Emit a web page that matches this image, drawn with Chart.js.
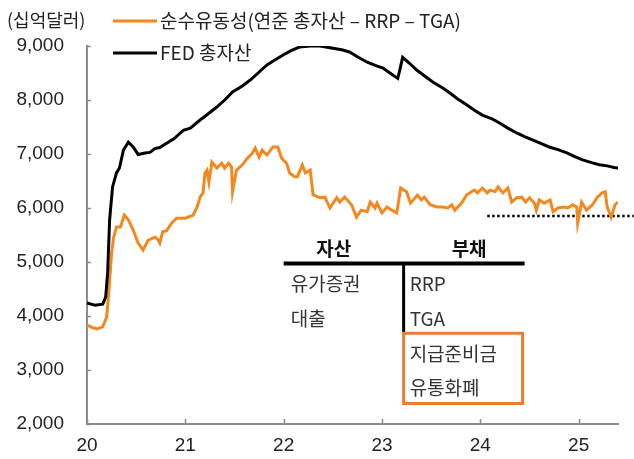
<!DOCTYPE html>
<html>
<head>
<meta charset="utf-8">
<script src="https://cdn.jsdelivr.net/npm/chart.js@4.4.1/dist/chart.umd.min.js"></script>
<style>
  body { margin: 0; background: #fff; }
  #wrap { position: relative; width: 634px; height: 459px; }
</style>
</head>
<body>
<div id="wrap"><canvas id="chart" width="634" height="459"></canvas></div>
<script>
// 순수유동성 (연준 총자산 - RRP - TGA), 십억달러
const liqYears = [20.00, 20.05, 20.10, 20.16, 20.20, 20.22, 20.25, 20.27, 20.30, 20.34,
  20.38, 20.42, 20.47, 20.52, 20.57, 20.62, 20.69, 20.72, 20.74, 20.77,
  20.81, 20.86, 20.91, 21.00, 21.08, 21.12, 21.15, 21.18, 21.20, 21.22,
  21.24, 21.27, 21.32, 21.37, 21.40, 21.44, 21.47, 21.48, 21.52, 21.58,
  21.63, 21.68, 21.71, 21.75, 21.78, 21.83, 21.89, 21.94, 21.98, 22.03,
  22.06, 22.11, 22.14, 22.19, 22.22, 22.27, 22.30, 22.37, 22.42, 22.47,
  22.54, 22.57, 22.62, 22.69, 22.74, 22.79, 22.85, 22.88, 22.93, 22.95,
  23.00, 23.05, 23.10, 23.15, 23.19, 23.25, 23.29, 23.36, 23.40, 23.43,
  23.49, 23.56, 23.62, 23.67, 23.71, 23.74, 23.81, 23.86, 23.91, 23.94,
  23.97, 24.02, 24.07, 24.10, 24.15, 24.18, 24.23, 24.28, 24.32, 24.37,
  24.42, 24.46, 24.50, 24.55, 24.57, 24.60, 24.65, 24.71, 24.74, 24.79,
  24.84, 24.89, 24.94, 24.98, 24.99, 25.03, 25.08, 25.14, 25.19, 25.24,
  25.27, 25.29, 25.33, 25.37, 25.40];
const liqValues = [3830, 3790, 3760, 3800, 3980, 4400, 5170, 5450, 5650, 5650,
  5870, 5780, 5590, 5350, 5220, 5400, 5460, 5420, 5350, 5560,
  5580, 5720, 5810, 5810, 5870, 6020, 6200, 6280, 6650, 6700,
  6480, 6850, 6740, 6830, 6740, 6830, 6760, 6300, 6700, 6800,
  6920, 7010, 7110, 6940, 7070, 6980, 7130, 7130, 6920, 6830,
  6650, 6580, 6580, 6800, 6650, 6700, 6240, 6190, 6200, 6000,
  6190, 6110, 6200, 6060, 5830, 5960, 5930, 6110, 6000, 6090,
  5910, 6020, 5960, 5910, 6370, 6300, 6090, 6240, 6150, 6200,
  6060, 6020, 6020, 6000, 6060, 5960, 6090, 6240, 6300, 6330,
  6280, 6370, 6280, 6330, 6300, 6390, 6280, 6370, 6110, 6190,
  6200, 6110, 6190, 6090, 5960, 6150, 6090, 6150, 5930, 6000,
  6020, 6000, 6060, 6020, 5720, 6110, 5960, 6060, 6200, 6280,
  6300, 6020, 5830, 6060, 6110];

// FED 총자산, 십억달러
const fedYears = [20.00, 20.08, 20.16, 20.19, 20.21, 20.23, 20.26, 20.30, 20.33, 20.37,
  20.42, 20.47, 20.52, 20.59, 20.64, 20.69, 20.74, 20.81, 20.89, 20.98,
  21.05, 21.15, 21.23, 21.32, 21.40, 21.48, 21.58, 21.66, 21.74, 21.83,
  21.91, 21.99, 22.08, 22.16, 22.27, 22.37, 22.50, 22.59, 22.67, 22.75,
  22.85, 22.93, 23.01, 23.08, 23.16, 23.18, 23.21, 23.28, 23.35, 23.43,
  23.52, 23.61, 23.69, 23.77, 23.86, 23.94, 24.02, 24.12, 24.20, 24.28,
  24.37, 24.45, 24.53, 24.62, 24.70, 24.79, 24.88, 24.96, 25.04, 25.13,
  25.21, 25.29, 25.36, 25.40];
const fedValues = [4240, 4200, 4220, 4350, 4800, 5780, 6390, 6650, 6740, 7070,
  7220, 7130, 6990, 7020, 7030, 7100, 7120, 7200, 7290, 7440,
  7480, 7630, 7740, 7870, 8000, 8150, 8260, 8370, 8500, 8650,
  8740, 8830, 8920, 8980, 9000, 9000, 8960, 8930, 8890, 8800,
  8700, 8640, 8590, 8500, 8400, 8550, 8790, 8680, 8560, 8450,
  8330, 8230, 8130, 8020, 7910, 7810, 7720, 7650, 7570, 7480,
  7390, 7320, 7260, 7190, 7130, 7080, 7020, 6950, 6890, 6840,
  6800, 6780, 6750, 6740];

// 점선 기준선
const refYears = [24.07, 25.56];
const refValues = [5850, 5850];

const yTicks = [2000, 3000, 4000, 5000, 6000, 7000, 8000, 9000];
const xTicks = [20, 21, 22, 23, 24, 25];

const seriesNames = ["순수유동성(연준 총자산 – RRP – TGA)", "FED 총자산"];
const unitLabel = "(십억달러)";
const assets = ["유가증권", "대출"];
const liabilities = ["RRP", "TGA"];
const boxed = ["지급준비금", "유통화폐"];

const ORANGE = "#f5871f";
const BOX = "#ec7c30";
const FONT = "'Liberation Sans', 'Noto Sans CJK KR', sans-serif";
const KFONT = "'Noto Sans CJK KR', sans-serif";

const toPoints = (xs, ys) => xs.map((x, i) => ({ x, y: ys[i] }));

// legend, unit label, inward ticks and the T-account sketch
const overlay = {
  id: "overlay",
  afterDraw(chart) {
    const { ctx, scales } = chart;
    const xs = scales.x, ys = scales.y;
    ctx.save();

    // inward tick marks
    ctx.strokeStyle = "#8c8c8c";
    ctx.lineWidth = 1.5;
    yTicks.forEach((v) => {
      const py = Math.round(ys.getPixelForValue(v)) + 0.5;
      ctx.beginPath(); ctx.moveTo(xs.left, py); ctx.lineTo(xs.left + 4, py); ctx.stroke();
    });
    xTicks.forEach((v) => {
      const px = Math.round(xs.getPixelForValue(v)) + 0.5;
      ctx.beginPath(); ctx.moveTo(px, ys.bottom); ctx.lineTo(px, ys.bottom - 5); ctx.stroke();
    });

    // unit + legend
    ctx.fillStyle = "#222";
    ctx.font = "18px " + KFONT;
    ctx.textBaseline = "middle";
    ctx.textAlign = "left";
    ctx.fillText(unitLabel, 7, 20);

    ctx.font = "19px " + KFONT;
    const legend = [[ORANGE, seriesNames[0], 21], ["#000", seriesNames[1], 53]];
    legend.forEach(([c, t, y]) => {
      ctx.strokeStyle = c; ctx.lineWidth = 3;
      ctx.beginPath(); ctx.moveTo(113, y); ctx.lineTo(157, y); ctx.stroke();
      ctx.fillStyle = "#222";
      ctx.fillText(t, 160, y);
    });

    // T-account
    const left = xs.getPixelForValue(22.0);
    const mid = xs.getPixelForValue(23.22);
    const right = xs.getPixelForValue(24.45);
    const lineY = ys.getPixelForValue(4970);
    ctx.strokeStyle = "#000";
    ctx.lineWidth = 4;
    ctx.beginPath(); ctx.moveTo(left, lineY); ctx.lineTo(right, lineY); ctx.stroke();
    ctx.lineWidth = 3;
    ctx.beginPath(); ctx.moveTo(mid, lineY); ctx.lineTo(mid, ys.getPixelForValue(3700)); ctx.stroke();

    ctx.fillStyle = "#111";
    ctx.font = "bold 19px " + KFONT;
    ctx.textAlign = "center";
    ctx.fillText("자산", (left + mid) / 2 - 10, lineY - 15);
    ctx.fillText("부채", (mid + right) / 2 + 5, lineY - 15);

    ctx.font = "19px " + KFONT;
    ctx.textAlign = "left";
    ctx.fillStyle = "#333";
    const rowY = [ys.getPixelForValue(4590), ys.getPixelForValue(3940)];
    assets.forEach((t, i) => ctx.fillText(t, left + 7, rowY[i]));
    liabilities.forEach((t, i) => ctx.fillText(t, mid + 6, rowY[i]));
    const boxRow = [ys.getPixelForValue(3300), ys.getPixelForValue(2670)];
    boxed.forEach((t, i) => ctx.fillText(t, mid + 6, boxRow[i]));

    ctx.strokeStyle = BOX;
    ctx.lineWidth = 3;
    const bTop = ys.getPixelForValue(3680), bBot = ys.getPixelForValue(2380);
    ctx.strokeRect(mid, bTop, xs.getPixelForValue(24.43) - mid, bBot - bTop);

    ctx.restore();
  }
};

new Chart(document.getElementById("chart"), {
  type: "line",
  data: {
    datasets: [
      {
        label: seriesNames[1],
        data: toPoints(fedYears, fedValues),
        borderColor: "#000",
        borderWidth: 3,
        pointRadius: 0,
        tension: 0,
      },
      {
        label: seriesNames[0],
        data: toPoints(liqYears, liqValues),
        borderColor: ORANGE,
        borderWidth: 3,
        pointRadius: 0,
        tension: 0,
      },
      {
        label: "ref",
        data: toPoints(refYears, refValues),
        borderColor: "#000",
        borderWidth: 2.5,
        borderDash: [2.5, 2.5],
        pointRadius: 0,
        clip: false,
      },
    ],
  },
  options: {
    responsive: false,
    animation: false,
    events: [],
    layout: { padding: { top: 46, right: 16, left: 0, bottom: 0 } },
    plugins: { legend: { display: false }, tooltip: { enabled: false } },
    scales: {
      x: {
        type: "linear",
        min: 20,
        max: 25.4,
        afterFit: (s) => { s.height = 35; },
        afterBuildTicks: (s) => { s.ticks = xTicks.map((v) => ({ value: v })); },
        grid: { display: false, drawTicks: false },
        border: { display: true, color: "#8c8c8c", width: 2 },
        ticks: { padding: 10, color: "#222", font: { family: FONT, size: 19 }, callback: (v) => String(v) },
      },
      y: {
        min: 2000,
        max: 9000,
        afterFit: (s) => { s.width = 87; },
        afterBuildTicks: (s) => { s.ticks = yTicks.map((v) => ({ value: v })); },
        grid: { display: false, drawTicks: false },
        border: { display: true, color: "#8c8c8c", width: 2 },
        ticks: {
          padding: 23,
          color: "#222",
          font: { family: FONT, size: 19 },
          callback: (v) => v.toLocaleString("en-US"),
        },
      },
    },
  },
  plugins: [overlay],
});
</script>
</body>
</html>
